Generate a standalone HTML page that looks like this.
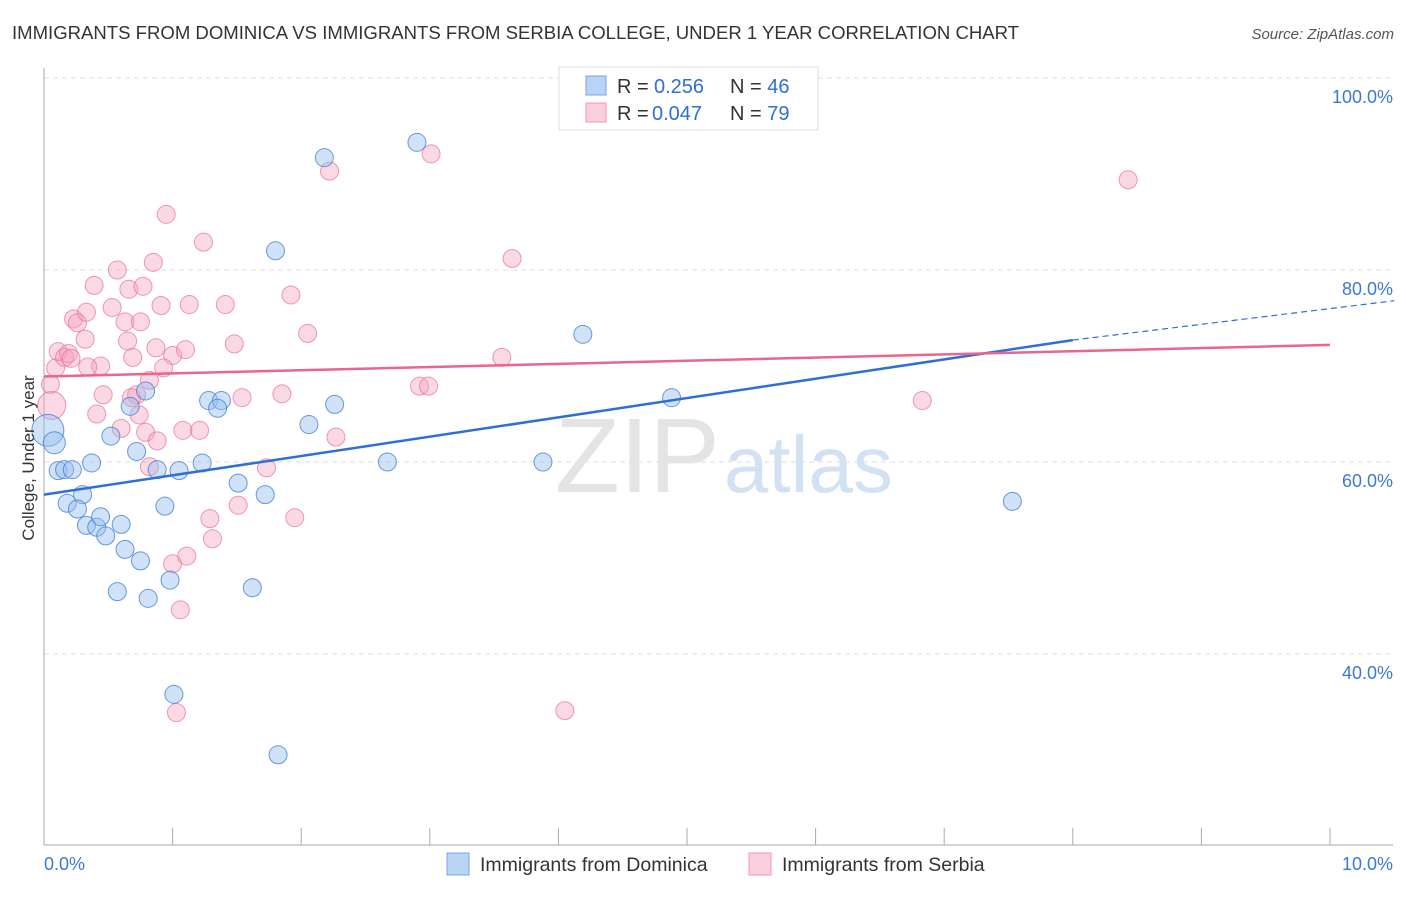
<!DOCTYPE html>
<html><head><meta charset="utf-8"><style>
body{margin:0;background:#fff;font-family:"Liberation Sans",sans-serif;}
svg text{font-family:"Liberation Sans",sans-serif;}
</style></head><body>
<svg id="chart" width="1406" height="892" viewBox="0 0 1406 892" xmlns="http://www.w3.org/2000/svg">
<text x="12" y="39" font-size="18" fill="#333" textLength="1007" lengthAdjust="spacingAndGlyphs">IMMIGRANTS FROM DOMINICA VS IMMIGRANTS FROM SERBIA COLLEGE, UNDER 1 YEAR CORRELATION CHART</text>
<text x="1394" y="39" font-size="15" fill="#555" font-style="italic" text-anchor="end">Source: ZipAtlas.com</text>
<g id="grid"></g>
<text x="555" y="492" font-size="106" fill="#e4e4e4" font-family="Liberation Serif">ZIP<tspan fill="#d2e1f3" font-family="Liberation Sans" font-size="80" dx="4">atlas</tspan></text>
<g id="axes"></g>
<g id="marks"></g>
<text x="34" y="458" font-size="17" fill="#333" text-anchor="middle" transform="rotate(-90 34 458)">College, Under 1 year</text>
<g>
<rect x="559" y="67" width="259" height="63" fill="#fff" stroke="#ddd"/>
<rect x="586" y="76" width="20" height="19" fill="#b9d3f5" stroke="#7aa6e0"/>
<rect x="586" y="103" width="20" height="19" fill="#fccfdc" stroke="#ef97b3"/>
<text x="617" y="93" font-size="20" fill="#333">R = <tspan x="654" fill="#2e6fd6">0.256</tspan><tspan x="730">N = </tspan><tspan fill="#2e6fd6">46</tspan></text>
<text x="617" y="120" font-size="20" fill="#333">R = <tspan x="652" fill="#2e6fd6">0.047</tspan><tspan x="730">N = </tspan><tspan fill="#2e6fd6">79</tspan></text>
</g>
<g>
<rect x="447" y="853" width="22" height="22" fill="#b9d3f5" stroke="#7aa6e0"/>
<text x="480" y="871" font-size="19.5" fill="#333">Immigrants from Dominica</text>
<rect x="749" y="853" width="22" height="22" fill="#fccfdc" stroke="#ef97b3"/>
<text x="782" y="871" font-size="19.5" fill="#333">Immigrants from Serbia</text>
</g>
</svg>
<script>
const yTicks=[40,60,80,100];
const yTickLabels=["40.0%","60.0%","80.0%","100.0%"];
const xTickLabels=["0.0%","10.0%"];
const blueX=[0.03,0.08,0.11,0.16,0.22,0.37,0.18,0.30,0.26,0.33,0.41,0.44,0.48,0.60,0.52,0.63,0.72,0.67,0.79,0.75,0.57,0.81,0.98,1.01,0.88,0.94,1.05,1.23,1.28,1.38,1.35,1.51,1.72,1.62,1.80,1.82,2.06,2.26,2.18,2.67,2.90,3.88,4.19,4.88,7.53];
const blueY=[63.3,62.0,59.1,59.2,59.2,59.9,55.7,56.6,55.1,53.4,53.2,54.3,52.3,53.5,62.7,50.9,61.1,65.8,67.4,49.7,46.5,45.8,47.7,35.8,59.2,55.4,59.1,59.9,66.4,66.4,65.6,57.8,56.6,46.9,82.0,29.5,63.9,66.0,91.7,60.0,93.3,60.0,73.3,66.7,55.9];
const blueR=[16,11,9,9,9,9,9,9,9,9,9,9,9,9,9,9,9,9,9,9,9,9,9,9,9,9,9,9,9,9,9,9,9,9,9,9,9,9,9,9,9,9,9,9,9];
const pinkX=[0.06,0.05,0.09,0.11,0.16,0.19,0.21,0.23,0.26,0.33,0.39,0.32,0.44,0.34,0.41,0.46,0.53,0.57,0.63,0.65,0.69,0.66,0.77,0.75,0.85,0.91,0.87,0.95,1.00,1.10,0.93,0.82,0.72,0.68,0.60,0.74,0.79,0.88,0.82,1.00,1.11,1.06,1.03,1.08,1.21,1.24,1.13,1.41,1.48,1.54,1.51,1.29,1.31,1.73,1.85,1.92,1.95,2.05,2.22,2.27,3.01,3.64,3.56,2.92,2.99,4.05,6.83,8.43];
const pinkY=[65.9,68.1,69.8,71.5,70.9,71.3,70.8,74.9,74.5,75.6,78.4,72.8,70.0,69.9,65.0,67.0,76.1,80.0,74.6,72.6,70.9,78.0,78.3,74.6,80.8,76.3,71.9,85.8,71.1,71.7,69.8,68.5,67.0,66.7,63.5,64.9,63.1,62.2,59.5,49.4,50.2,44.6,33.9,63.3,63.3,82.9,76.4,76.4,72.3,66.7,55.5,54.1,52.0,59.4,67.1,77.4,54.2,73.4,90.3,62.6,92.1,81.2,70.9,67.9,67.9,34.1,66.4,89.4];
const blueLine=[[0,56.6],[8.0,72.7]];
const blueDash=[[8.0,72.7],[10.5,76.8]];
const pinkLine=[[0,68.9],[10.0,72.2]];
const X0=44,X1=1330,Y0=78,pxPer=9.6;
const sx=v=>X0+(X1-X0)*v/10;
const sy=v=>Y0+(100-v)*pxPer;
const NS="http://www.w3.org/2000/svg";
function mk(tag,attrs,parent){const e=document.createElementNS(NS,tag);for(const k in attrs)e.setAttribute(k,attrs[k]);parent.appendChild(e);return e;}
const grid=document.getElementById('grid'),axes=document.getElementById('axes'),marks=document.getElementById('marks');
mk('line',{x1:X0,x2:1393,y1:sy(100),y2:sy(100),stroke:'#ddd','stroke-dasharray':'5,4'},grid);
yTicks.forEach((t,i)=>{
 if(t<100){const l=mk('line',{x1:X0,x2:1393,y1:sy(t),y2:sy(t),stroke:'#ddd','stroke-dasharray':'5,4'},grid);
 
 }
 const tx=mk('text',{x:1393,y:sy(t)+25,'font-size':18,fill:'#3b78d8','text-anchor':'end'},axes);
 tx.textContent=yTickLabels[i];
 
 
});
mk('line',{x1:X0,x2:X0,y1:68,y2:845,stroke:'#aaa'},axes);
mk('line',{x1:X0,x2:1393,y1:845,y2:845,stroke:'#aaa'},axes);
for(let i=0;i<=10;i++){mk('line',{x1:sx(i),x2:sx(i),y1:828,y2:845,stroke:'#aaa'},axes);}
[[0,'start',X0],[1,'end',1393]].forEach(([i,a,x])=>{const t=mk('text',{x:x,y:870,'font-size':18,fill:'#3b78d8','text-anchor':a},axes);t.textContent=xTickLabels[i];

});
pinkX.forEach((x,i)=>{const c=mk('circle',{cx:sx(x),cy:sy(pinkY[i]),r:i===0?14:9,fill:'rgba(246,160,188,0.4)',stroke:'rgba(232,110,150,0.7)','stroke-width':1},marks);

});
blueX.forEach((x,i)=>{const c=mk('circle',{cx:sx(x),cy:sy(blueY[i]),r:blueR[i],fill:'rgba(150,190,240,0.45)',stroke:'rgba(60,120,210,0.75)','stroke-width':1},marks);

});
const bl=mk('line',{x1:sx(blueLine[0][0]),y1:sy(blueLine[0][1]),x2:sx(blueLine[1][0]),y2:sy(blueLine[1][1]),stroke:'#2d6fd6','stroke-width':2.5},marks);


const bd=mk('line',{x1:sx(blueDash[0][0]),y1:sy(blueDash[0][1]),x2:sx(blueDash[1][0]),y2:sy(blueDash[1][1]),stroke:'#2d6fd6','stroke-width':1.2,'stroke-dasharray':'6,4'},marks);


const pl=mk('line',{x1:sx(pinkLine[0][0]),y1:sy(pinkLine[0][1]),x2:sx(pinkLine[1][0]),y2:sy(pinkLine[1][1]),stroke:'#e8668f','stroke-width':2.5},marks);


</script>
</body></html>
